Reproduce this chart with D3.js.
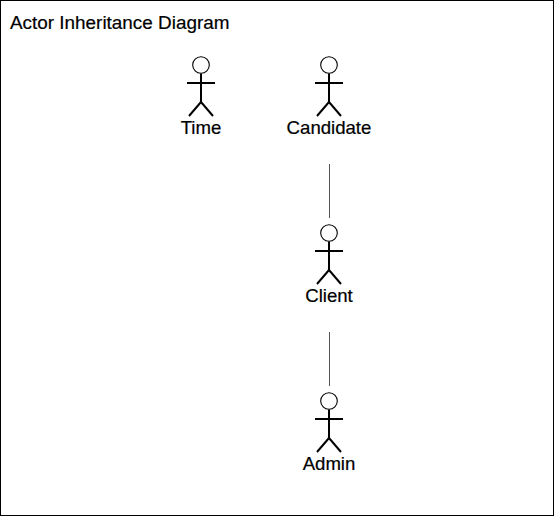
<!DOCTYPE html>
<html>
<head>
<meta charset="utf-8">
<script src="https://cdn.jsdelivr.net/npm/d3@7"></script>
<style>
  body { margin: 0; background: #fff; }
  text { font-family: "Liberation Sans", Arial, sans-serif; fill: #000; }
</style>
</head>
<body>
<script>
var w = 554,
    h = 516;

// actors and where they sit in the hierarchy
var actors = ['Time', 'Candidate', 'Client', 'Admin'];
var columns = [0, 1, 1, 1];
var levels = [0, 0, 1, 2];
// generalization: [child, parent]
var links = [['Client', 'Candidate'], ['Admin', 'Client']];

var title = 'Actor Inheritance Diagram';

var svg = d3.select('body')
    .append('svg')
    .attr('width', w)
    .attr('height', h);

svg.append('rect')
    .attr('x', 0.5).attr('y', 0.5)
    .attr('width', w - 1).attr('height', h - 1)
    .attr('fill', '#fff')
    .attr('stroke', '#000');

svg.append('text')
    .attr('x', 10)
    .attr('y', 29)
    .style('font-size', '18.9px')
    .style('stroke', '#000')
    .style('stroke-width', 0.2)
    .text(title);

var x = d3.scaleLinear().domain([0, 1]).range([201, 329]),
    y = d3.scaleLinear().domain([0, 2]).range([65, 401]);

var nodes = actors.map(function(a, i) {
    return { name: a, cx: x(columns[i]), cy: y(levels[i]) };
});
var byName = {};
nodes.forEach(function(n) { byName[n.name] = n; });

svg.selectAll('line.gen')
    .data(links)
    .enter()
    .append('line')
    .attr('class', 'gen')
    .attr('x1', function(d) { return byName[d[1]].cx + 0.5; })
    .attr('x2', function(d) { return byName[d[0]].cx + 0.5; })
    .attr('y1', function(d) { return byName[d[1]].cy + 99; })
    .attr('y2', function(d) { return byName[d[0]].cy - 15; })
    .attr('stroke', '#555')
    .attr('stroke-width', 1);

var g = svg.selectAll('g.actor')
    .data(nodes)
    .enter()
    .append('g')
    .attr('class', 'actor')
    .attr('transform', function(d) { return 'translate(' + d.cx + ',' + d.cy + ')'; });

g.append('circle')
    .attr('r', 8.3)
    .attr('fill', '#fff')
    .attr('stroke', '#000')
    .attr('stroke-width', 1.1);

g.append('path')
    .attr('d', 'M-14,18H14M0,8.5V37M0,37L-12,51M0,37L12,51')
    .attr('fill', 'none')
    .attr('stroke', '#000')
    .attr('stroke-width', 2);

g.append('text')
    .attr('y', 69)
    .attr('text-anchor', 'middle')
    .style('font-size', '18.6px')
    .style('stroke', '#000')
    .style('stroke-width', 0.2)
    .text(function(d) { return d.name; });
</script>
</body>
</html>
